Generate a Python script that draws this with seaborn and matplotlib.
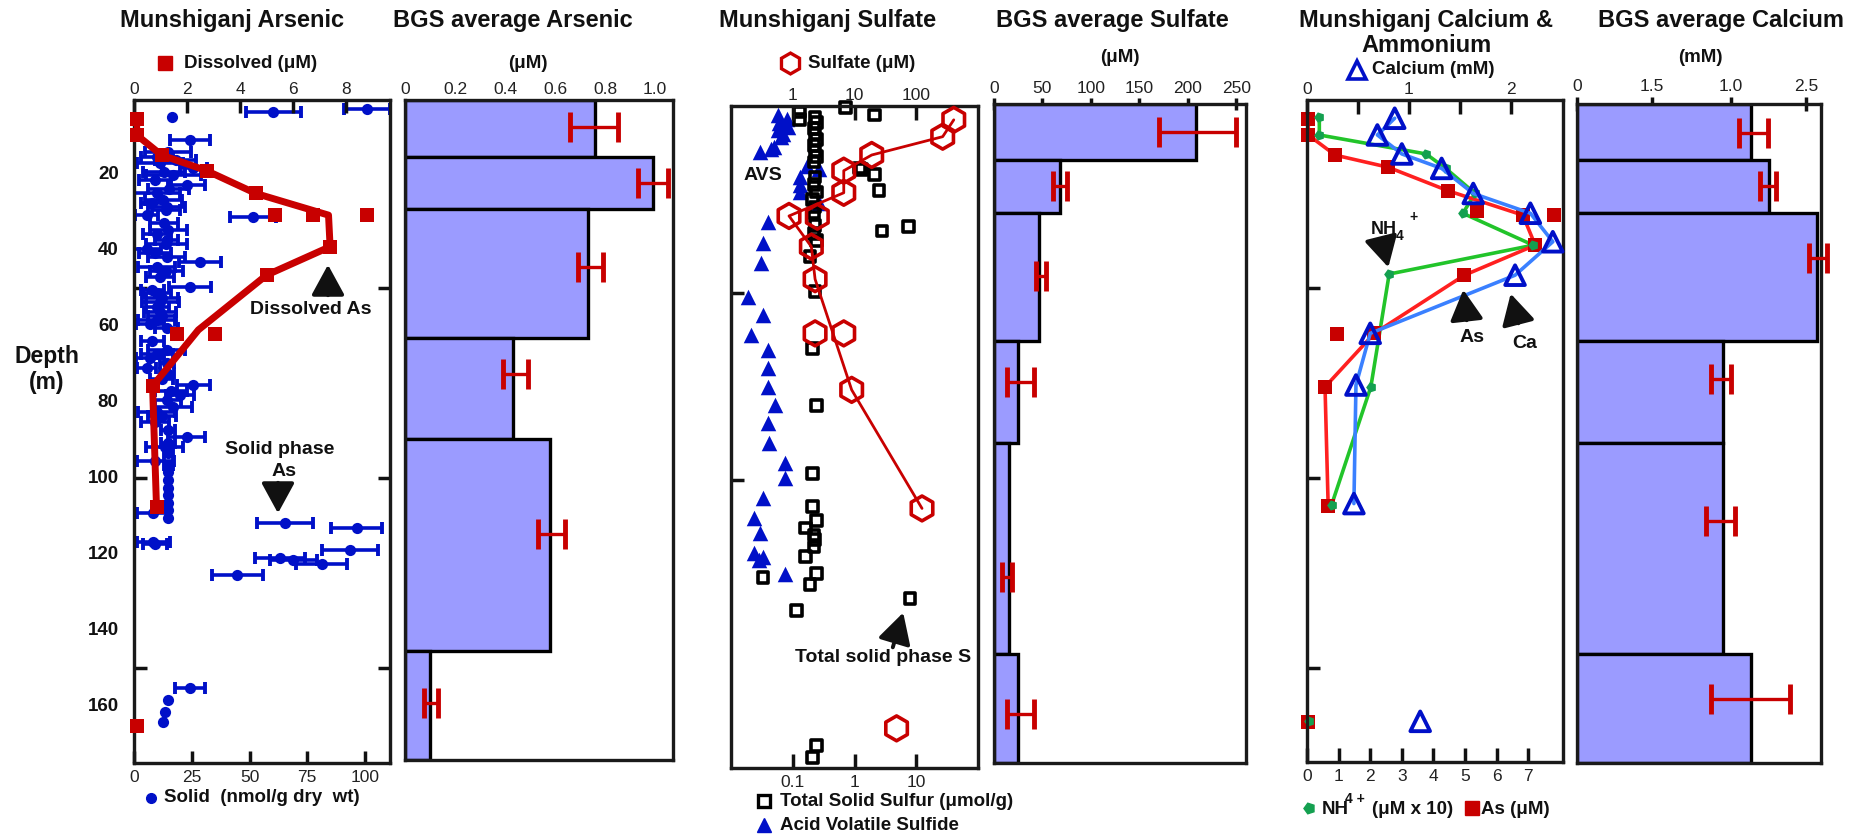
import numpy as np
import matplotlib
matplotlib.use("Agg")
import matplotlib.pyplot as plt
from matplotlib.lines import Line2D
import seaborn as sns

# ---------------------------------------------------------------- data
# Munshiganj dissolved arsenic (uM): smoothed profile and individual samples
as_line_depth = [5.6, 9.7, 15, 19.1, 25.1, 30.8, 39.1, 46.6, 61, 75.8, 107.7]
as_line_conc = [0.1, 0.1, 1.04, 2.74, 4.6, 7.34, 7.4, 5.0, 2.43, 0.7, 0.85]
as_pts_depth = [5.6, 9.7, 15, 19.1, 25.1, 30.8, 30.8, 30.8, 39.1, 46.6, 62, 62, 75.8, 107.7, 165.3]
as_pts_conc = [0.1, 0.1, 1.04, 2.74, 4.6, 5.32, 6.77, 8.78, 7.4, 5.0, 3.06, 1.63, 0.7, 0.85, 0.1]

# Munshiganj solid phase arsenic (nmol/g dry wt) with +/- error
solid_depth = [3.0, 3.6, 5.1, 10.9, 14.1, 15.5, 16.3, 17.2, 18.5, 19.5, 20.3, 21.5, 22.9, 24.0,
               25.1, 26.8, 27.5, 28.6, 29.5, 30.8, 31.2, 33.0, 34.7, 35.8, 37.4, 38.5, 39.6,
               40.7, 41.8, 43.1, 44.4, 45.5, 47.0, 49.7, 50.5, 51.4, 52.5, 53.6, 55.0, 56.2,
               57.3, 58.4, 59.4, 60.6, 64.0, 66.3, 67.4, 68.5, 69.8, 71.1, 72.4, 74.0, 75.5,
               77.0, 78.2, 79.5, 81.2, 82.5, 83.8, 85.2, 87.4, 89.1, 90.9, 91.8, 93.5, 95.4,
               96.5, 98.5, 100.5, 102.5, 104.5, 106.5, 108.5, 109.3, 110.5, 111.9, 113.2,
               116.8, 117.4, 118.9, 121.1, 121.6, 122.5, 125.5, 155.3, 158.4, 161.5, 164.1]
solid_conc = [100.7, 60.3, 16.3, 24.2, 14.8, 10.0, 18.0, 11.3, 25.7, 13.0, 17.0, 9.0, 22.8, 15.0,
              9.8, 12.7, 8.0, 14.2, 14.0, 5.5, 51.6, 13.0, 14.8, 10.0, 14.2, 14.0, 5.5,
              9.0, 14.2, 28.6, 9.8, 14.0, 11.3, 24.2, 8.0, 9.8, 12.0, 11.3, 10.0, 11.3,
              12.0, 9.8, 7.0, 14.2, 8.0, 14.2, 10.0, 6.9, 14.2, 5.5, 14.2, 12.0, 25.7,
              16.0, 19.9, 14.2, 17.0, 9.8, 12.0, 9.1, 14.8, 22.8, 14.8, 13.4, 14.8, 9.1,
              14.8, 14.8, 14.8, 14.8, 14.8, 14.8, 14.8, 8.4, 14.8, 65.4, 96.4,
              8.4, 9.1, 93.5, 63.2, 69.0, 81.3, 44.7, 24.2, 14.8, 13.4, 12.7]
solid_err = [10, 12, 0, 8.5, 10, 7, 9, 10, 6, 9, 12, 7, 8, 9,
             10, 8, 5, 8, 6, 5, 10, 6, 8, 6, 5, 9, 6,
             7, 8, 9, 8, 7, 6, 9, 5, 6, 7, 8, 5, 7,
             6, 8, 6, 5, 5, 8, 7, 6, 3, 4, 3, 5, 7,
             7, 6, 6, 8, 8, 6, 6, 3, 8, 3, 8, 2, 8,
             2, 0, 0, 0, 0, 0, 0, 7, 0, 12, 11,
             7, 5, 12, 11, 10, 11, 11, 6.5, 0, 0, 0]

# Munshiganj sulfate (uM)
so4_line_depth = [3.7, 8.2, 13.1, 17.3, 23.2, 29.4, 37.6, 46.3, 75.9, 107.6]
so4_line_conc = [405, 268, 19, 6.7, 6.7, 0.87, 2.0, 2.3, 9.0, 124]
so4_pts_depth = [3.7, 8.2, 13.1, 17.3, 23.2, 29.4, 29.6, 37.6, 46.3, 60.8, 60.8, 75.9, 107.6, 166.4]
so4_pts_conc = [405, 268, 19, 6.7, 6.7, 0.87, 2.5, 2.0, 2.3, 2.3, 6.7, 9.0, 124, 48]

# Total solid sulfur (umol/g)
tss_depth = [0.4, 2.4, 1.6, 3.7, 3.0, 4.5, 6.0, 7.5, 9.0, 10.5, 12.0, 13.5, 15.0, 16.6, 17.0,
             18.4, 22.6, 19.0, 21.0, 23.0, 25.0, 27.0, 28.6, 33.4, 32.3, 32.0, 34.0, 36.0,
             40.3, 49.6, 64.8, 80.0, 98.2, 107.0, 110.8, 112.8, 114.7, 116.0, 117.9, 120.5,
             124.9, 126.0, 128.0, 131.6, 134.8, 170.9, 174.2]
tss_conc = [0.72, 2.1, 0.13, 0.13, 0.23, 0.24, 0.22, 0.23, 0.24, 0.22, 0.23, 0.24, 0.22, 1.2, 1.3,
            2.1, 2.5, 0.23, 0.22, 0.24, 0.21, 0.23, 0.22, 2.8, 7.5, 0.23, 0.22, 0.24,
            0.19, 0.23, 0.21, 0.24, 0.21, 0.21, 0.24, 0.16, 0.22, 0.23, 0.22, 0.16,
            0.24, 0.033, 0.19, 7.9, 0.115, 0.24, 0.21]

# Acid volatile sulfide (umol/g)
avs_depth = [2.4, 3.5, 4.5, 5.5, 6.5, 7.5, 8.3, 11.0, 12.2, 11.5, 16.0, 16.8, 19.0, 21.0, 23.0,
             26.0, 31.0, 36.7, 42.0, 51.0, 55.9, 61.2, 65.2, 70.0, 75.0, 80.0, 84.8, 90.2,
             95.5, 99.5, 104.9, 110.2, 114.3, 119.6, 120.5, 121.4, 125.0]
avs_conc = [0.057, 0.08, 0.06, 0.083, 0.057, 0.07, 0.065, 0.05, 0.029, 0.045, 0.17, 0.27, 0.13,
            0.13, 0.13, 0.27, 0.04, 0.033, 0.031, 0.019, 0.033, 0.021, 0.04, 0.04, 0.04, 0.051,
            0.04, 0.042, 0.074, 0.074, 0.033, 0.024, 0.029, 0.024, 0.033, 0.028, 0.074]

# Munshiganj calcium (mM), ammonium (uM x 10) and arsenic (uM)
ca_depth = [5.3, 9.7, 14.7, 18.5, 25.1, 30.3, 37.8, 46.6, 61.9, 75.5, 106.7, 164]
ca_conc = [0.86, 0.69, 0.93, 1.32, 1.63, 2.19, 2.41, 2.04, 0.62, 0.48, 0.46, 1.11]
nh4_depth = [5.1, 9.7, 14.7, 18.5, 25.1, 30.3, 38.7, 46.3, 76, 107, 164]
nh4_conc = [0.39, 0.39, 3.77, 4.39, 5.32, 4.93, 7.16, 2.60, 2.02, 0.78, 0.06]
as5_line_depth = [5.5, 9.7, 15, 18.2, 24.4, 30.8, 38.7, 46.6, 61.9, 76, 107.4]
as5_line_conc = [0.04, 0.04, 0.89, 2.57, 4.47, 6.83, 7.22, 4.98, 2.13, 0.57, 0.67]
as5_pts_depth = [5.5, 9.7, 15, 18.2, 24.4, 29.7, 30.8, 30.8, 38.7, 46.6, 61.9, 62.2, 76, 107.4, 164.1]
as5_pts_conc = [0.04, 0.04, 0.89, 2.57, 4.47, 5.37, 6.83, 7.82, 7.22, 4.98, 2.13, 0.96, 0.57, 0.67, 0.04]

# BGS depth-interval averages (m)
bgs_top = [0, 15, 29, 63, 90, 146]
bgs_bottom = [15, 29, 63, 90, 146, 175]

bgs_as = [0.76, 0.99, 0.73, 0.43, 0.58, 0.10]
bgs_as_lo = [0.66, 0.93, 0.69, 0.39, 0.53, 0.076]
bgs_as_hi = [0.85, 1.05, 0.79, 0.49, 0.64, 0.13]
bgs_as_errdepth = [7.1, 22, 44.4, 72.7, 115, 160]

bgs_so4 = [208.7, 67.6, 46, 25, 15.6, 25]
bgs_so4_lo = [170.5, 60.7, 43, 13.9, 8.7, 13.9]
bgs_so4_hi = [249.6, 75.2, 53.7, 41.6, 19, 41.6]
bgs_so4_errdepth = [7.4, 21.9, 45.7, 73.9, 125.7, 161.9]

bgs_ca = [1.90, 2.09, 2.62, 1.59, 1.59, 1.90]
bgs_ca_lo = [1.77, 2.00, 2.53, 1.46, 1.41, 1.46]
bgs_ca_hi = [2.08, 2.17, 2.72, 1.68, 1.72, 2.32]
bgs_ca_errdepth = [7.6, 21.8, 40.8, 73, 110.7, 158]

depth_labels = [20, 40, 60, 80, 100, 120, 140, 160]

# ---------------------------------------------------------------- style
sns.set_theme(style="white")
plt.rcParams["font.family"] = ["Liberation Sans", "DejaVu Sans"]
plt.rcParams["axes.edgecolor"] = "#1a1a1a"
plt.rcParams["axes.linewidth"] = 2.3

RED = "#c80000"
BRIGHT_RED = "#ff2020"
BLUE = "#0010c8"
LINE_BLUE = "#3a80ff"
GREEN = "#22c42a"
GREEN_MK = "#14a050"
BAR = "#9b9bff"
INK = "#111111"

W, H = 1863, 836
fig = plt.figure(figsize=(W / 100, H / 100), dpi=100)


def rect(l, t, r, b):
    return [l / W, 1 - b / H, (r - l) / W, (b - t) / H]


def ptext(x, y, s, size=13.5, weight="bold", ha="center", va="center", color=INK):
    fig.text(x / W, 1 - y / H, s, fontsize=size, fontweight=weight, ha=ha, va=va, color=color)


def pmark(x, y, **kw):
    fig.add_artist(Line2D([x / W], [1 - y / H], transform=fig.transFigure, linestyle="none", **kw))


def parrow(x0, y0, x1, y1):
    fig.add_artist(matplotlib.patches.FancyArrowPatch(
        (x0 / W, 1 - y0 / H), (x1 / W, 1 - y1 / H), transform=fig.transFigure,
        arrowstyle="-|>,head_length=1.1,head_width=0.6", mutation_scale=17,
        lw=2.8, color=INK))


def clear_labels(*axes):
    for a in axes:
        a.set_xlabel("")
        a.set_ylabel("")


def depth_ticks(ax, left=True, right=True, minor=(50, 100, 150)):
    ax.set_yticks([])
    ax.set_yticks(list(minor), minor=True)
    ax.tick_params(axis="y", which="minor", direction="in", length=9, width=2.5,
                   left=left, right=right, color=INK)


def bar_panel(px, vals, lo, hi, errdepth, xlim, ticks, labels, tlen, tdir):
    ax = fig.add_axes(rect(*px))
    heights = np.subtract(bgs_bottom, bgs_top)
    ax.barh(bgs_top, vals, height=heights, align="edge", color=BAR,
            edgecolor="black", linewidth=2.4, zorder=2)
    v = np.asarray(vals)
    eb = ax.errorbar(v, errdepth, xerr=[v - np.asarray(lo), np.asarray(hi) - v], fmt="none",
                     ecolor=RED, elinewidth=2.4, capsize=11, capthick=3.5, zorder=3)
    for art in eb.get_children():
        art.set_clip_on(False)
    ax.set_xlim(*xlim)
    ax.set_ylim(175, 0)
    ax.set_yticks([])
    ax.xaxis.tick_top()
    ax.set_xticks(ticks)
    ax.set_xticklabels(labels)
    ax.tick_params(axis="x", top=True, bottom=False, direction=tdir, length=tlen, width=2.5,
                   labelsize=12.5, pad=2, color=INK, labelcolor="#222222")
    for s in ax.spines.values():
        s.set_linewidth(2.4)
    return ax


# ---------------------------------------------------------------- panel 1: Munshiganj arsenic
ax1 = fig.add_axes(rect(134, 100, 390, 763))
ax1t = ax1.twiny()
ax1.set_xlim(0, 110.8)
ax1t.set_xlim(0, 9.66)

has_err = np.asarray(solid_err) > 0
ax1.errorbar(np.asarray(solid_conc)[has_err], np.asarray(solid_depth)[has_err],
             xerr=np.asarray(solid_err)[has_err], fmt="none", ecolor=BLUE, elinewidth=2.6,
             capsize=4.5, capthick=2.8, zorder=2)
sns.scatterplot(x=solid_conc, y=solid_depth, ax=ax1, color=BLUE, marker="o", s=65,
                linewidth=0, zorder=3, legend=False)
sns.lineplot(x=as_line_conc, y=as_line_depth, ax=ax1t, sort=False, estimator=None,
             color=RED, linewidth=5, zorder=3)
sns.scatterplot(x=as_pts_conc, y=as_pts_depth, ax=ax1t, color=RED, marker="s", s=100,
                linewidth=0, zorder=4, legend=False, clip_on=False)
ax1.set_ylim(175, 0.5)
clear_labels(ax1, ax1t)

ax1.set_xticks([0, 25, 50, 75, 100])
ax1.tick_params(axis="x", direction="in", length=9, width=2.5, labelsize=12.5, pad=5,
                color=INK, labelcolor="#222222")
ax1t.set_xticks([0, 2, 4, 6, 8])
ax1t.tick_params(axis="x", direction="in", length=9, width=2.5, labelsize=12.5, pad=2,
                 color=INK, labelcolor="#222222")
depth_ticks(ax1)
for d in depth_labels:
    ax1.text(-0.06, d, str(d), transform=ax1.get_yaxis_transform(), ha="right", va="center",
             fontsize=13.5, fontweight="bold", color=INK)

# ---------------------------------------------------------------- panel 2: BGS arsenic
bar_panel((405, 100, 673, 760), bgs_as, bgs_as_lo, bgs_as_hi, bgs_as_errdepth, (0, 1.072),
          [0, 0.2, 0.4, 0.6, 0.8, 1.0], ["0", "0.2", "0.4", "0.6", "0.8", "1.0"], 0, "in")

# ---------------------------------------------------------------- panel 3: Munshiganj sulfate
ax3 = fig.add_axes(rect(731, 106, 978, 768))
ax3t = ax3.twiny()
ax3.set_xscale("log")
ax3t.set_xscale("log")
ax3.set_xlim(0.01, 100)
ax3t.set_xlim(0.1, 1000)

sns.scatterplot(x=avs_conc, y=avs_depth, ax=ax3, color=BLUE, marker="^", s=125,
                linewidth=0, zorder=3, legend=False)
sns.scatterplot(x=tss_conc, y=tss_depth, ax=ax3, color="black", marker="s", s=60,
                facecolor="none", edgecolor="black", linewidth=2.6, zorder=4, legend=False,
                clip_on=False)
sns.lineplot(x=so4_line_conc, y=so4_line_depth, ax=ax3t, sort=False, estimator=None,
             color=RED, linewidth=2.0, zorder=3)
sns.scatterplot(x=so4_pts_conc, y=so4_pts_depth, ax=ax3t, color=RED, marker="h", s=320,
                facecolor="none", edgecolor=RED, linewidth=2.6, zorder=4, legend=False,
                clip_on=False)
ax3.set_ylim(177, 0)
clear_labels(ax3, ax3t)
ax3.set_xticks([0.1, 1, 10])
ax3.set_xticklabels(["0.1", "1", "10"])
ax3.xaxis.set_minor_locator(matplotlib.ticker.NullLocator())
ax3.tick_params(axis="x", direction="in", length=10, width=2.5, labelsize=12.5, pad=5,
                color=INK, labelcolor="#222222")
ax3t.set_xticks([1, 10, 100])
ax3t.set_xticklabels(["1", "10", "100"])
ax3t.xaxis.set_minor_locator(matplotlib.ticker.NullLocator())
ax3t.tick_params(axis="x", direction="in", length=10, width=2.5, labelsize=12.5, pad=2,
                 color=INK, labelcolor="#222222")
depth_ticks(ax3, right=False, minor=(50, 100))

# ---------------------------------------------------------------- panel 4: BGS sulfate
bar_panel((994, 104, 1246, 763), bgs_so4, bgs_so4_lo, bgs_so4_hi, bgs_so4_errdepth, (0, 260),
          [0, 50, 100, 150, 200, 250], ["0", "50", "100", "150", "200", "250"], 8, "inout")

# ---------------------------------------------------------------- panel 5: calcium & ammonium
ax5 = fig.add_axes(rect(1307, 100, 1563, 762))
ax5t = ax5.twiny()
ax5.set_xlim(0, 8.1)
ax5t.set_xlim(0, 2.51)

sns.lineplot(x=nh4_conc[:-1], y=nh4_depth[:-1], ax=ax5, sort=False, estimator=None,
             color=GREEN, linewidth=2.6, zorder=2)
sns.lineplot(x=as5_line_conc, y=as5_line_depth, ax=ax5, sort=False, estimator=None,
             color=BRIGHT_RED, linewidth=2.6, zorder=2)
sns.scatterplot(x=as5_pts_conc, y=as5_pts_depth, ax=ax5, color=RED, marker="s", s=115,
                linewidth=0, zorder=3, legend=False, clip_on=False)
sns.scatterplot(x=nh4_conc, y=nh4_depth, ax=ax5, color=GREEN_MK, marker=(5, 0, 90), s=60,
                linewidth=0, zorder=4, legend=False, clip_on=False)
sns.lineplot(x=ca_conc[:-1], y=ca_depth[:-1], ax=ax5t, sort=False, estimator=None,
             color=LINE_BLUE, linewidth=2.6, zorder=2)
sns.scatterplot(x=ca_conc, y=ca_depth, ax=ax5t, color=BLUE, marker="^", s=200,
                facecolor="none", edgecolor=BLUE, linewidth=2.8, zorder=4, legend=False,
                clip_on=False)
ax5.set_ylim(174.7, 0.5)
clear_labels(ax5, ax5t)
ax5.set_xticks(range(0, 8))
ax5.tick_params(axis="x", direction="in", length=10, width=2.5, labelsize=12.5, pad=5,
                color=INK, labelcolor="#222222")
ax5t.set_xticks([0, 0.5, 1, 1.5, 2])
ax5t.set_xticklabels(["0", "", "1", "", "2"])
ax5t.tick_params(axis="x", direction="in", length=10, width=2.5, labelsize=12.5, pad=2,
                 color=INK, labelcolor="#222222")
depth_ticks(ax5, right=False)

# ---------------------------------------------------------------- panel 6: BGS calcium
bar_panel((1577, 104, 1821, 763), bgs_ca, bgs_ca_lo, bgs_ca_hi, bgs_ca_errdepth, (0, 2.66),
          [0, 0.82, 1.68, 2.5], ["0", "1.5", "1.0", "2.5"], 10, "inout")

# ---------------------------------------------------------------- titles and labels
for x, s in [(232, "Munshiganj Arsenic"), (513, "BGS average Arsenic"),
             (828, "Munshiganj Sulfate"), (1112, "BGS average Sulfate"),
             (1426, "Munshiganj Calcium &"), (1721, "BGS average Calcium")]:
    ptext(x, 27, s, size=17, va="baseline")
ptext(1427, 52, "Ammonium", size=17, va="baseline")

ptext(47, 357, "Depth", size=16.5)
ptext(47, 382, "(m)", size=16.5)

# axis captions with their symbol keys
pmark(165, 63, marker="s", markersize=10, color=RED)
ptext(184, 63, "Dissolved (μM)", ha="left")
ptext(528, 63, "(μM)")
pmark(790, 63, marker="h", markersize=15, markerfacecolor="none", markeredgecolor=RED,
      markeredgewidth=2.4)
ptext(808, 63, "Sulfate (μM)", ha="left")
ptext(1120, 57, "(μM)")
pmark(1357, 70, marker="^", markersize=13, markerfacecolor="none", markeredgecolor=BLUE,
      markeredgewidth=2.6)
ptext(1372, 69, "Calcium (mM)", ha="left")
ptext(1700, 58, "(mM)")

pmark(151, 798, marker="o", markersize=7, color=BLUE)
ptext(164, 798, "Solid  (nmol/g dry  wt)", ha="left")
pmark(764, 801, marker="s", markersize=8, markerfacecolor="none", markeredgecolor="black",
      markeredgewidth=2.4)
ptext(780, 801, "Total Solid Sulfur (μmol/g)", ha="left")
pmark(764, 825, marker="^", markersize=10, color=BLUE)
ptext(780, 825, "Acid Volatile Sulfide", ha="left")
pmark(1309, 808, marker=(5, 0, 90), markersize=8, color=GREEN_MK)
ptext(1322, 809, "NH", ha="left")
ptext(1345, 799, "4 +", ha="left", size=10)
ptext(1372, 809, "(μM x 10)", ha="left")
pmark(1472, 808, marker="s", markersize=10, color=RED)
ptext(1481, 809, "As (μM)", ha="left")

# annotations
ptext(311, 310, "Dissolved As", size=14)
parrow(328, 298, 328, 262)
ptext(280, 450, "Solid phase", size=14)
ptext(284, 471, "As", size=14)
parrow(278, 480, 278, 516)
ptext(763, 175, "AVS", size=14)
ptext(883, 657, "Total solid phase S", size=14)
parrow(892, 650, 904, 610)
ptext(1384, 229, "NH", size=13)
ptext(1400, 236, "4", size=10)
ptext(1413, 217, "+", size=10)
parrow(1381, 238, 1389, 270)
ptext(1472, 338, "As", size=14)
parrow(1467, 323, 1463, 287)
ptext(1525, 343, "Ca", size=14)
parrow(1519, 326, 1510, 291)

fig.savefig("out.png", dpi=100)
